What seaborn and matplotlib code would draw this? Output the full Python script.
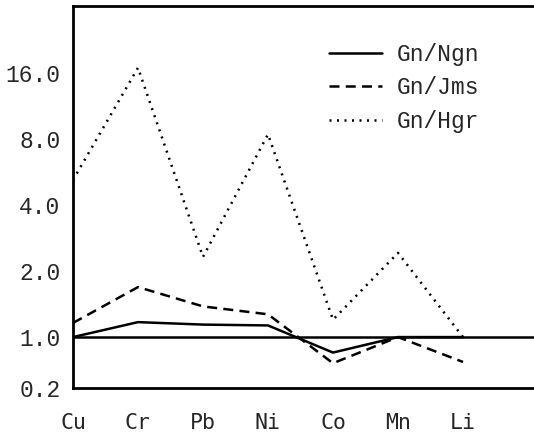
import pandas as pd
import matplotlib.pyplot as plt
import seaborn as sns
from matplotlib.lines import Line2D

elements = ["Cu", "Cr", "Pb", "Ni", "Co", "Mn", "Li"]
gn_ngn = [1.0, 1.17, 1.14, 1.13, 0.85, 1.0, 1.0]
gn_jms = [1.16, 1.69, 1.38, 1.27, 0.76, 1.0, 0.77]
gn_hgr = [5.2, 16.9, 2.32, 8.4, 1.2, 2.42, 1.0]

ytick_vals = [0.586, 1, 2, 4, 8, 16]
ytick_labels = ["0.2", "1.0", "2.0", "4.0", "8.0", "16.0"]

series = {"Gn/Ngn": gn_ngn, "Gn/Jms": gn_jms, "Gn/Hgr": gn_hgr}
rows = []
for name, vals in series.items():
    for i, v in enumerate(vals):
        rows.append({"pos": i, "value": v, "series": name})
df = pd.DataFrame(rows)

sns.set_style("white")

fig = plt.figure(figsize=(5.34, 4.34), dpi=100)
ax = fig.add_axes([73 / 534, 46 / 434, 470 / 534, 382 / 434])

# reference line at 1.0
ax.axhline(1.0, color="black", lw=1.8, zorder=1)

sns.lineplot(data=df, x="pos", y="value", style="series", color="black",
             dashes={"Gn/Ngn": "", "Gn/Jms": (4, 2.5), "Gn/Hgr": (0.8, 2.2)},
             linewidth=1.8, sort=False, ax=ax, legend=False)

ax.set_yscale("log", base=2)
ax.set_ylim(0.586, 32.3)
ax.set_xlim(0, 470 / 65)
ax.set_yticks(ytick_vals)
ax.set_yticklabels(ytick_labels, family="Liberation Mono", fontsize=16.5)
ax.minorticks_off()
ax.set_xticks(range(len(elements)))
ax.set_xticklabels(elements, family="DejaVu Sans Mono", fontsize=15.5)
ax.tick_params(axis="y", direction="in", length=3, width=1.2, pad=9)
ax.tick_params(axis="x", direction="in", length=3, width=1.2, pad=18)
ax.set_xlabel("")
ax.set_ylabel("")

for s in ["left", "top", "bottom"]:
    ax.spines[s].set_linewidth(2)
    ax.spines[s].set_color("black")
ax.spines["right"].set_visible(False)

handles = [
    Line2D([], [], color="black", lw=1.8),
    Line2D([], [], color="black", lw=1.8, dashes=(4, 2.5)),
    Line2D([], [], color="black", lw=1.8, dashes=(0.8, 2.2)),
]
fig.legend(handles, list(series.keys()), loc="center left",
           bbox_to_anchor=(318 / 534, 1 - 88 / 434), frameon=False,
           borderpad=0, handlelength=2.3, handletextpad=0.65, labelspacing=0.45,
           prop={"family": "Liberation Mono", "size": 16.5})

fig.savefig("out.png", dpi=100)
